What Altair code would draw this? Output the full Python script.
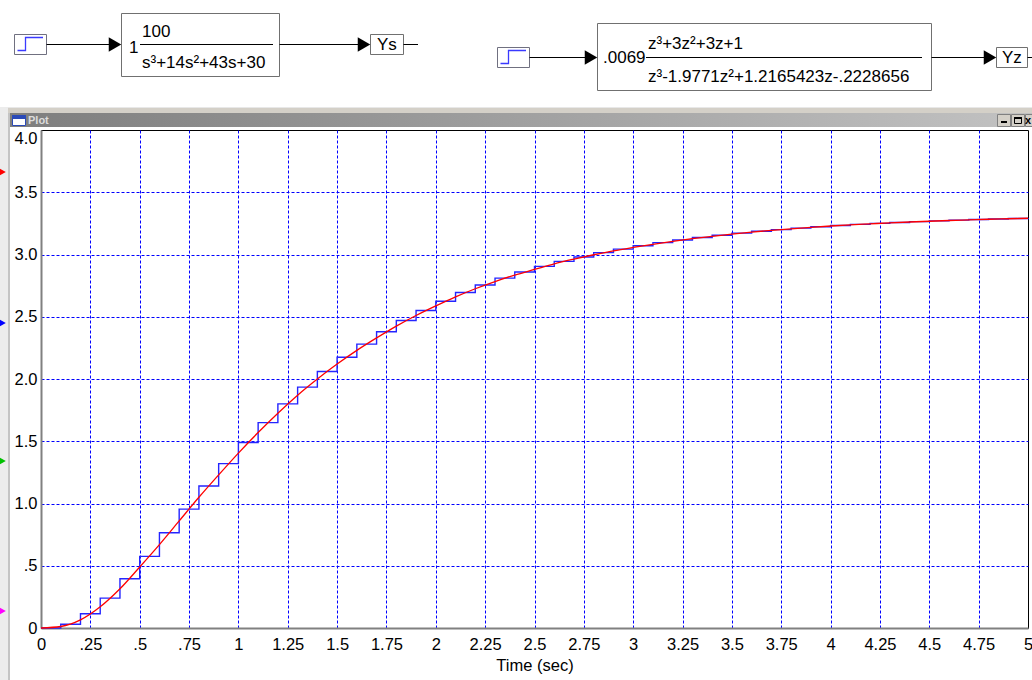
import altair as alt
import pandas as pd

# ---------------- data ----------------
T = [0.0, 0.1, 0.2, 0.3, 0.4, 0.5, 0.6, 0.7, 0.8, 0.9,
     1.0, 1.1, 1.2, 1.3, 1.4, 1.5, 1.6, 1.7, 1.8, 1.9,
     2.0, 2.1, 2.2, 2.3, 2.4, 2.5, 2.6, 2.7, 2.8, 2.9,
     3.0, 3.1, 3.2, 3.3, 3.4, 3.5, 3.6, 3.7, 3.8, 3.9,
     4.0, 4.1, 4.2, 4.3, 4.4, 4.5, 4.6, 4.7, 4.8, 4.9, 5.0]

# discrete (z-domain) staircase, blue
YZ = [0.0, 0.03, 0.115, 0.24, 0.395, 0.575, 0.765, 0.955, 1.14, 1.32,
      1.49, 1.65, 1.80, 1.935, 2.06, 2.175, 2.28, 2.38, 2.47, 2.55,
      2.625, 2.695, 2.755, 2.81, 2.86, 2.905, 2.945, 2.98, 3.015, 3.043,
      3.07, 3.095, 3.117, 3.137, 3.155, 3.172, 3.187, 3.20, 3.212, 3.223,
      3.233, 3.242, 3.25, 3.257, 3.264, 3.27, 3.276, 3.281, 3.285, 3.289, 3.293]

# continuous (s-domain) response, red
YS = [0.0, 0.012, 0.065, 0.17, 0.315, 0.49, 0.67, 0.86, 1.05, 1.23,
      1.405, 1.57, 1.725, 1.87, 2.0, 2.12, 2.23, 2.33, 2.425, 2.51,
      2.587, 2.66, 2.725, 2.783, 2.835, 2.88, 2.925, 2.963, 2.998, 3.03,
      3.057, 3.082, 3.106, 3.127, 3.146, 3.164, 3.18, 3.194, 3.206, 3.218,
      3.229, 3.238, 3.246, 3.254, 3.261, 3.267, 3.273, 3.278, 3.283, 3.287, 3.291]

X_TICKS = [0, 0.25, 0.5, 0.75, 1, 1.25, 1.5, 1.75, 2, 2.25, 2.5, 2.75,
           3, 3.25, 3.5, 3.75, 4, 4.25, 4.5, 4.75, 5]
X_LABELS = ["0", ".25", ".5", ".75", "1", "1.25", "1.5", "1.75", "2", "2.25", "2.5",
            "2.75", "3", "3.25", "3.5", "3.75", "4", "4.25", "4.5", "4.75", "5"]
Y_TICKS = [0, 0.5, 1, 1.5, 2, 2.5, 3, 3.5, 4]
Y_LABELS = ["0", ".5", "1.0", "1.5", "2.0", "2.5", "3.0", "3.5", "4.0"]

X_TITLE = "Time (sec)"

# block diagram texts
LEFT_GAIN = "1"
LEFT_NUM = "100"
LEFT_DEN = "s³+14s²+43s+30"
LEFT_OUT = "Ys"
RIGHT_GAIN = ".0069"
RIGHT_NUM = "z³+3z²+3z+1"
RIGHT_DEN = "z³-1.9771z²+1.2165423z-.2228656"
RIGHT_OUT = "Yz"
WINDOW_TITLE = "Plot"

# ---------------- layout ----------------
LEFT, TOP = 41, 130
W, H = 987, 498
FONT = "Liberation Sans"


def px(x):
    return x - LEFT


def py(y):
    return y - TOP


def label_expr(vals, labels):
    return ("[" + ",".join("'%s'" % l for l in labels) + "][indexof(["
            + ",".join(repr(v) for v in vals) + "], datum.value)]")


# ---------------- decorations (window chrome and block diagram) ----------------
back_rects = pd.DataFrame([
    # x1, y1, x2, y2, fill, stroke
    (0, 107, 8, 680, "#ececec", "transparent"),
    (8, 107, 10, 680, "#c4c4c4", "transparent"),
    (8, 107, 1032, 113, "#d4d0c8", "transparent"),
    (8, 107, 1032, 108, "#e8e8e8", "transparent"),
], columns=["x1", "y1", "x2", "y2", "fill", "stroke"])

title_bar = pd.DataFrame([(10, 113, 1032, 127)], columns=["x1", "y1", "x2", "y2"])

front_rects = pd.DataFrame([
    # title bar icon and buttons
    (12.5, 115.5, 25.5, 125.5, "#ffffff", "#2a4ab8"),
    (12.5, 115.5, 25.5, 118.5, "#2a4ab8", "#2a4ab8"),
    (997.5, 114.5, 1010.5, 126.5, "#d4d0c8", "#808080"),
    (1011.5, 114.5, 1024.5, 126.5, "#d4d0c8", "#808080"),
    (1025.5, 114.5, 1038.5, 126.5, "#d4d0c8", "#808080"),
    (1001, 121, 1007, 123, "#000000", "transparent"),
    (1014.5, 117.5, 1021.5, 123.5, "transparent", "#000000"),
    (1014.5, 117.5, 1021.5, 118.5, "#000000", "#000000"),
    # diagram boxes
    (14.5, 34.5, 46.5, 54.5, "#ffffff", "#707080"),
    (121.5, 13.5, 279.5, 76.5, "#ffffff", "#707070"),
    (370.5, 34.5, 403.5, 54.5, "#ffffff", "#707070"),
    (497.5, 47.5, 529.5, 67.5, "#ffffff", "#707080"),
    (597.5, 23.5, 931.5, 90.5, "#ffffff", "#707070"),
    (996.5, 47.5, 1027.5, 67.5, "#ffffff", "#707070"),
], columns=["x1", "y1", "x2", "y2", "fill", "stroke"])

rules = pd.DataFrame([
    (46.5, 44.5, 114, 44.5),
    (279.5, 44.5, 364, 44.5),
    (403.5, 44.5, 418, 44.5),
    (529.5, 57.5, 591, 57.5),
    (931.5, 57.5, 990, 57.5),
    (1027.5, 57.5, 1032, 57.5),
    (140, 44.5, 273, 44.5),
    (646, 57.5, 922, 57.5),
], columns=["x1", "y1", "x2", "y2"])

step_icons = pd.DataFrame([
    ("L", 0, 17.5, 50.5), ("L", 1, 25.5, 50.5), ("L", 2, 25.5, 37.5), ("L", 3, 43, 37.5),
    ("R", 0, 500.5, 63.5), ("R", 1, 508.5, 63.5), ("R", 2, 508.5, 50.5), ("R", 3, 526, 50.5),
], columns=["icon", "order", "x", "y"])

points = pd.DataFrame([
    # arrow heads
    (115, 44.5, "#000000", 210),
    (364, 44.5, "#000000", 210),
    (591, 57.5, "#000000", 210),
    (990, 57.5, "#000000", 210),
    # colored input markers on window edge
    (0, 172, "#ff0000", 180),
    (0, 323, "#0000ff", 180),
    (0, 461, "#00c000", 180),
    (0, 611, "#ff00ff", 180),
], columns=["x", "y", "c", "s"])

texts = pd.DataFrame([
    (129, 53, LEFT_GAIN, 17, "#000000"),
    (142, 37, LEFT_NUM, 17, "#000000"),
    (142, 68, LEFT_DEN, 17, "#000000"),
    (377, 50, LEFT_OUT, 17, "#000000"),
    (603, 63, RIGHT_GAIN, 17, "#000000"),
    (648, 49, RIGHT_NUM, 17, "#000000"),
    (648, 82, RIGHT_DEN, 17, "#000000"),
    (1002, 63, RIGHT_OUT, 17, "#000000"),
], columns=["x", "y", "txt", "fs", "c"])

title_text = pd.DataFrame([(28, 124, WINDOW_TITLE)], columns=["x", "y", "txt"])
close_text = pd.DataFrame([(1025, 124, "x")], columns=["x", "y", "txt"])

for d in (back_rects, title_bar, front_rects, rules):
    d["x1"] = d["x1"].map(px)
    d["x2"] = d["x2"].map(px)
    d["y1"] = d["y1"].map(py)
    d["y2"] = d["y2"].map(py)
for d in (step_icons, points, texts, title_text, close_text):
    d["x"] = d["x"].map(px)
    d["y"] = d["y"].map(py)


def rect_layer(df, **mark):
    enc = dict(
        x=alt.X("x1:Q", scale=None, axis=None),
        x2="x2:Q",
        y=alt.Y("y1:Q", scale=None, axis=None),
        y2="y2:Q",
    )
    if "fill" in df.columns:
        enc["fill"] = alt.Fill("fill:N", scale=None, legend=None)
        enc["stroke"] = alt.Stroke("stroke:N", scale=None, legend=None)
    return alt.Chart(df).mark_rect(**mark).encode(**enc)


back_layer = rect_layer(back_rects, strokeWidth=1)
bar_layer = rect_layer(
    title_bar,
    fill=alt.LinearGradient(
        gradient="linear",
        stops=[alt.GradientStop(color="#7e7e7e", offset=0),
               alt.GradientStop(color="#c2c2c2", offset=1)],
        x1=0, x2=1, y1=0, y2=0,
    ),
)
front_layer = rect_layer(front_rects, strokeWidth=1)

rule_layer = alt.Chart(rules).mark_rule(color="#000000", strokeWidth=1).encode(
    x=alt.X("x1:Q", scale=None, axis=None), x2="x2:Q",
    y=alt.Y("y1:Q", scale=None, axis=None), y2="y2:Q",
)

icon_layer = alt.Chart(step_icons).mark_line(color="#3a3aff", strokeWidth=1.3).encode(
    x=alt.X("x:Q", scale=None, axis=None),
    y=alt.Y("y:Q", scale=None, axis=None),
    detail="icon:N",
    order="order:Q",
)

point_layer = alt.Chart(points).mark_point(shape="triangle-right", filled=True, opacity=1).encode(
    x=alt.X("x:Q", scale=None, axis=None),
    y=alt.Y("y:Q", scale=None, axis=None),
    color=alt.Color("c:N", scale=None, legend=None),
    size=alt.Size("s:Q", scale=None, legend=None),
)

text_layer = alt.Chart(texts).mark_text(align="left", baseline="alphabetic", font=FONT).encode(
    x=alt.X("x:Q", scale=None, axis=None),
    y=alt.Y("y:Q", scale=None, axis=None),
    text="txt:N",
    size=alt.Size("fs:Q", scale=None, legend=None),
    color=alt.Color("c:N", scale=None, legend=None),
)

title_layer = alt.Chart(title_text).mark_text(
    align="left", baseline="alphabetic", font=FONT, fontSize=11, fontWeight="bold", color="#dcdcdc"
).encode(
    x=alt.X("x:Q", scale=None, axis=None),
    y=alt.Y("y:Q", scale=None, axis=None),
    text="txt:N",
)

close_layer = alt.Chart(close_text).mark_text(
    align="left", baseline="alphabetic", font=FONT, fontSize=11, fontWeight="bold", color="#000000"
).encode(
    x=alt.X("x:Q", scale=None, axis=None),
    y=alt.Y("y:Q", scale=None, axis=None),
    text="txt:N",
)

# ---------------- main plot ----------------
df_z = pd.DataFrame({"t": T, "v": YZ})
df_s = pd.DataFrame({"t": T, "v": YS})

x_axis = alt.Axis(
    values=X_TICKS,
    labelExpr=label_expr(X_TICKS, X_LABELS),
    grid=True,
    gridColor="#0000ff",
    gridDash=[3, 2],
    gridWidth=1,
    gridOpacity=alt.condition("datum.value == 0 || datum.value >= 5", alt.value(0), alt.value(1)),
    ticks=False,
    tickSize=0,
    domainColor="#808080",
    domainWidth=2,
    labelFont=FONT,
    labelFontSize=16.5,
    labelColor="#000000",
    labelPadding=8,
    labelFlush=False,
    labelOverlap=False,
    title=X_TITLE,
    titleFont=FONT,
    titleFontSize=16.5,
    titleFontWeight="normal",
    titleColor="#000000",
    titlePadding=5,
)

y_axis = alt.Axis(
    values=Y_TICKS,
    labelExpr=label_expr(Y_TICKS, Y_LABELS),
    grid=True,
    gridColor="#0000ff",
    gridDash=[3, 2],
    gridWidth=1,
    gridOpacity=alt.condition("datum.value == 0 || datum.value >= 4", alt.value(0), alt.value(1)),
    ticks=False,
    tickSize=0,
    domainColor="#808080",
    domainWidth=2,
    labelFont=FONT,
    labelFontSize=16.5,
    labelColor="#000000",
    labelPadding=4,
    labelFlush=False,
    labelOverlap=False,
    labelBaseline=alt.condition("datum.value >= 4", alt.value("top"), alt.value("middle")),
    title="",
)

blue = alt.Chart(df_z).mark_line(interpolate="step-after", color="#2424ff", strokeWidth=1.4).encode(
    x=alt.X("t:Q", scale=alt.Scale(domain=[0, 5], nice=False, zero=False), axis=x_axis),
    y=alt.Y("v:Q", scale=alt.Scale(domain=[0, 4], nice=False), axis=y_axis),
)
red = alt.Chart(df_s).mark_line(interpolate="monotone", color="#ff0000", strokeWidth=1.3).encode(
    x="t:Q",
    y="v:Q",
)

chart = alt.layer(
    back_layer, bar_layer, front_layer, rule_layer, icon_layer, point_layer,
    text_layer, title_layer, close_layer, blue, red,
).properties(
    width=W,
    height=H,
    autosize="none",
    padding={"left": LEFT, "top": TOP, "right": 1032 - LEFT - W, "bottom": 680 - TOP - H},
    background="#ffffff",
).configure_view(
    stroke="#000000",
    strokeWidth=1,
)

chart.save("out.html", embed_options={"renderer": "svg", "actions": False})
